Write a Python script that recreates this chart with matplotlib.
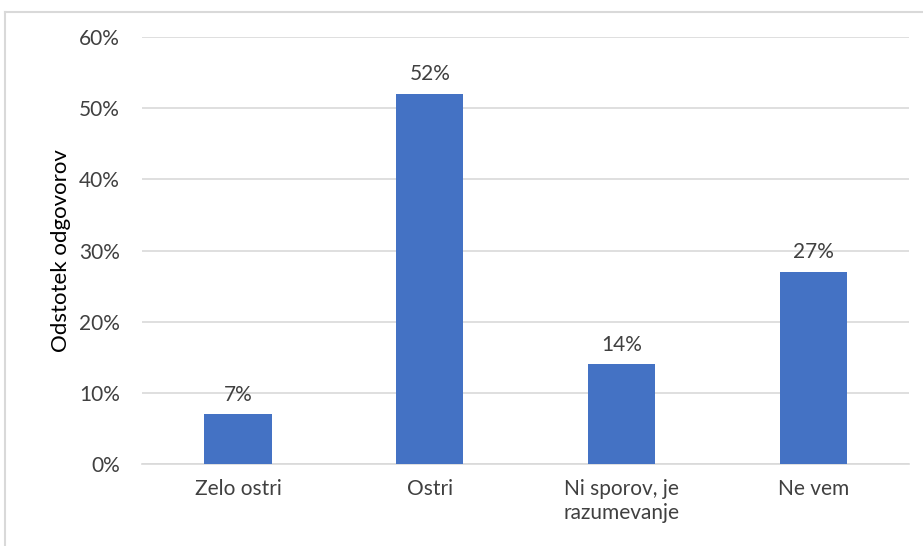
import matplotlib
matplotlib.use("Agg")
import matplotlib.pyplot as plt
from matplotlib.lines import Line2D
from matplotlib.ticker import FuncFormatter

categories = ["Zelo ostri", "Ostri", "Ni sporov, je\nrazumevanje", "Ne vem"]
values = [7, 52, 14, 27]
value_labels = ["7%", "52%", "14%", "27%"]
y_ticks = [0, 10, 20, 30, 40, 50, 60]

plt.rcParams['font.family'] = ['Lato', 'DejaVu Sans']
text_col = "#404040"
grid_col = "#D9D9D9"
bar_col = "#4472C4"

fig = plt.figure(figsize=(9.23, 5.46), dpi=100)
ax = fig.add_axes([0.154, 0.150, 0.831, 0.782])

x = range(len(categories))
bars = ax.bar(x, values, width=0.35, color=bar_col, zorder=3)
for b, lab in zip(bars, value_labels):
    ax.annotate(lab, (b.get_x() + b.get_width() / 2, b.get_height()),
                xytext=(0, 7), textcoords="offset points",
                ha="center", va="bottom", fontsize=15, color=text_col)

ax.set_xlim(-0.5, 3.5)
ax.set_ylim(0, 60)
ax.set_yticks(y_ticks)
ax.yaxis.set_major_formatter(FuncFormatter(lambda v, p: "{:.0f}%".format(v)))
ax.set_xticks(list(x))
ax.set_xticklabels(categories, linespacing=1.25)
ax.tick_params(axis="both", length=0, labelsize=15, colors=text_col)
ax.tick_params(axis="y", pad=16)
ax.tick_params(axis="x", pad=11)
ax.yaxis.grid(True, color=grid_col, linewidth=1.2, zorder=0)
for s in ["top", "right", "left"]:
    ax.spines[s].set_visible(False)
ax.spines["bottom"].set_color(grid_col)
ax.spines["bottom"].set_linewidth(1.2)

ax.set_ylabel("Odstotek odgovorov", fontsize=16, color="black", labelpad=6)

# outer chart frame (top and left edges visible)
fig.add_artist(Line2D([0.0054, 1.0], [0.978, 0.978], color=grid_col, linewidth=1.5))
fig.add_artist(Line2D([0.0054, 0.0054], [0.0, 0.978], color=grid_col, linewidth=1.5))

fig.savefig("out.png", dpi=100)
